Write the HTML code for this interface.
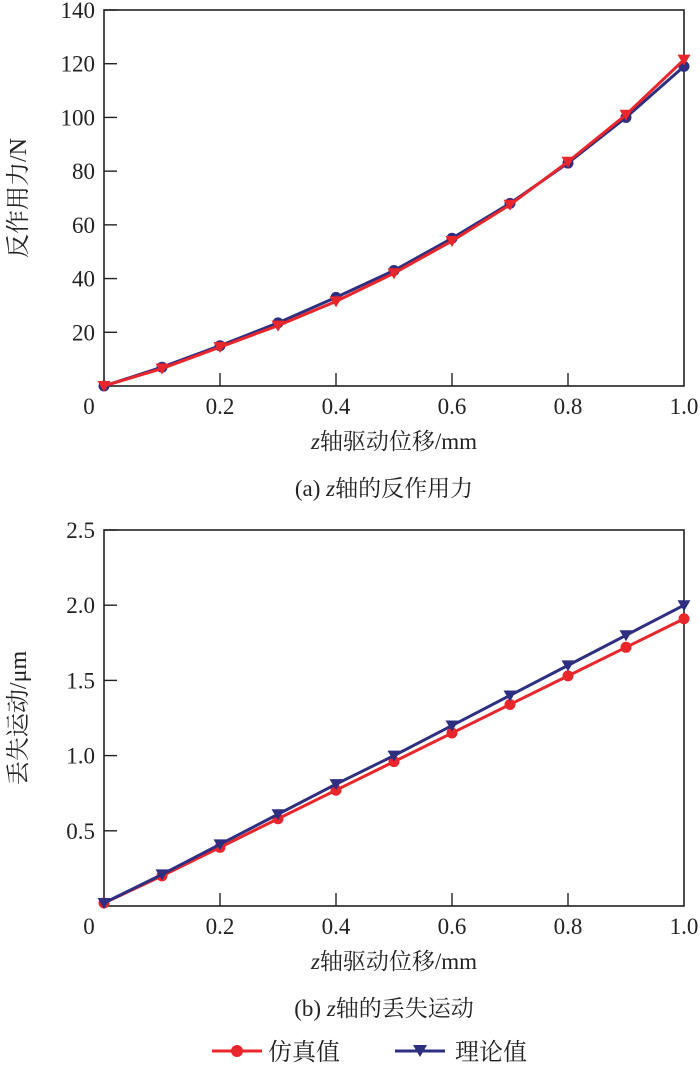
<!DOCTYPE html>
<html><head><meta charset="utf-8"><style>
html,body{margin:0;padding:0;background:#fff;}
svg{display:block;}
text{font-family:"Liberation Serif","Noto Serif CJK SC",serif;fill:#222;}
</style></head><body>
<svg id="c" width="700" height="1067"></svg>
<script>
const xVals=[0,0.1,0.2,0.3,0.4,0.5,0.6,0.7,0.8,0.9,1.0];
const forceSim=[0,6.5,14.5,22.5,31.5,42,54,67.5,83.5,101,121.5];
const forceTheory=[0,7,15,23.5,33,43,55,68,83,100,119];
const lostSim=[0.02,0.2,0.39,0.58,0.77,0.96,1.15,1.34,1.53,1.72,1.91];
const lostTheory=[0.02,0.21,0.41,0.61,0.81,1.0,1.2,1.4,1.6,1.8,2.0];
const xTicks=[0.2,0.4,0.6,0.8,1.0];
const xTickLabels=["0.2","0.4","0.6","0.8","1.0"];
const yTicksA=[20,40,60,80,100,120,140];
const yTicksB=[0.5,1.0,1.5,2.0,2.5];
const yTickLabelsB=["0.5","1.0","1.5","2.0","2.5"];
const RED="#e8262b",BLUE="#2e2f80";
const svg=document.getElementById('c');
const NS="http://www.w3.org/2000/svg";
function mk(tag,attrs,parent){const e=document.createElementNS(NS,tag);for(const k in attrs)e.setAttribute(k,attrs[k]);(parent||svg).appendChild(e);return e;}
function panel(cfg){
  const g=mk('g',{});
  
  
  const L=104,R=684,T=cfg.top,B=cfg.bottom;
  const sx=v=>L+(v-0)/(1-0)*(R-L);
  const sy=v=>B-(v/cfg.ymax)*(B-T);
  const fr=mk('rect',{x:L,y:T,width:R-L,height:B-T,fill:'none',stroke:'#222','stroke-width':1.6},g);
  
  
  cfg.yTicks.forEach((v,i)=>{
    const y=sy(v);
    mk('line',{x1:L,x2:L+13,y1:y,y2:y,stroke:'#222','stroke-width':1.4},g);
    const t=mk('text',{x:95,y:y+8,'text-anchor':'end','font-size':23},g);
    t.textContent=cfg.yLabels[i];
    
    
  });
  xTicks.forEach((v,i)=>{
    const x=sx(v);
    if(v<1) mk('line',{x1:x,x2:x,y1:B,y2:B-13,stroke:'#222','stroke-width':1.4},g);
    const t=mk('text',{x:x,y:B+28,'text-anchor':'middle','font-size':23},g);
    t.textContent=xTickLabels[i];
    
    
  });
  const z=mk('text',{x:89,y:B+28,'text-anchor':'middle','font-size':23},g);z.textContent='0';
  
  
  const xt=mk('text',{x:394,y:B+63,'text-anchor':'middle','font-size':23},g);
  xt.innerHTML='<tspan font-style="italic">z</tspan>轴驱动位移/mm';
  
  
  const cap=mk('text',{x:384,y:B+110,'text-anchor':'middle','font-size':23},g);
  cap.innerHTML=cfg.caption;
  
  
  const cy=(T+B)/2;
  const yt=mk('text',{x:0,y:0,'text-anchor':'middle','font-size':24,transform:`translate(26,${cy}) rotate(-90)`},g);
  yt.textContent=cfg.ytitle;
  
  
  cfg.series.forEach(s=>{
    const pts=xVals.map((x,i)=>sx(x)+','+sy(s.vals[i])).join(' ');
    const pl=mk('polyline',{points:pts,fill:'none',stroke:s.color,'stroke-width':3},g);
    
    
    xVals.forEach((x,i)=>{
      const px=sx(x),py=sy(s.vals[i]);
      let m;
      if(s.marker==='circle') m=mk('circle',{cx:px,cy:py,r:5.5,fill:s.color},g);
      else m=mk('polygon',{points:`${px-6.5},${py-5} ${px+6.5},${py-5} ${px},${py+6}`,fill:s.color},g);
      
      
    });
  });
}
panel({name:'force-panel',top:10,bottom:386,ymax:140,yTicks:yTicksA,yLabels:yTicksA.map(String),
  ytitle:'反作用力/N',caption:'(a) <tspan font-style="italic">z</tspan>轴的反作用力',
  series:[{name:'theory',vals:forceTheory,color:BLUE,marker:'circle'},{name:'sim',vals:forceSim,color:RED,marker:'tri'}]});
panel({name:'lost-motion-panel',top:530,bottom:906,ymax:2.5,yTicks:yTicksB,yLabels:yTickLabelsB,
  ytitle:'丢失运动/μm',caption:'(b) <tspan font-style="italic">z</tspan>轴的丢失运动',
  series:[{name:'sim',vals:lostSim,color:RED,marker:'circle'},{name:'theory',vals:lostTheory,color:BLUE,marker:'tri'}]});
const lg=mk('g',{});


mk('line',{x1:212,x2:262,y1:1051,y2:1051,stroke:RED,'stroke-width':3},lg);
mk('circle',{cx:237,cy:1051,r:6,fill:RED},lg);
const l1=mk('text',{x:268,y:1060,'font-size':24},lg);l1.textContent='仿真值';


mk('line',{x1:395,x2:445,y1:1051,y2:1051,stroke:BLUE,'stroke-width':3},lg);
mk('polygon',{points:'413,1045 427,1045 420,1057',fill:BLUE},lg);
const l2=mk('text',{x:455,y:1060,'font-size':24},lg);l2.textContent='理论值';


</script>
</body></html>
